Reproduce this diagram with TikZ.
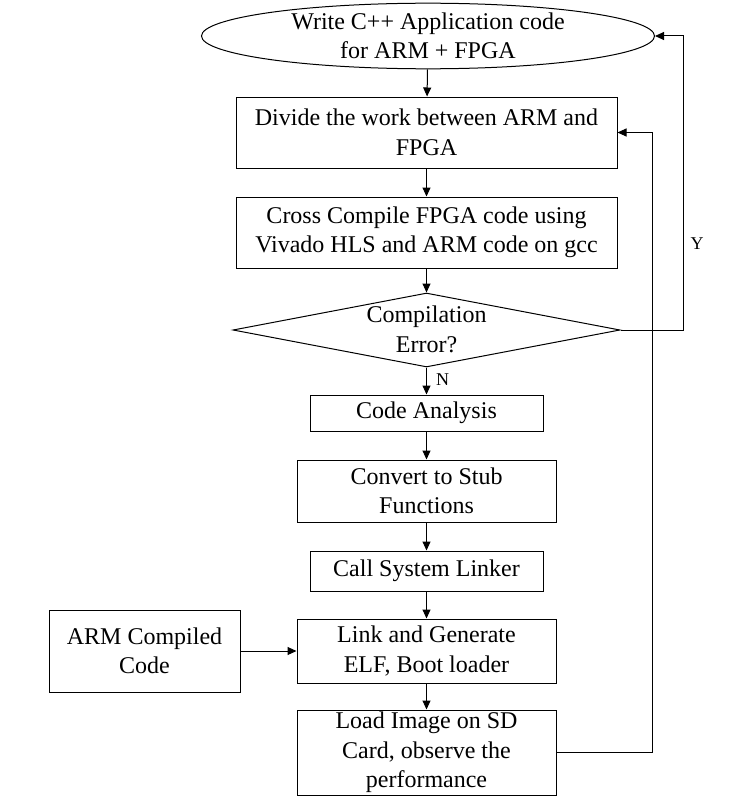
\documentclass[tikz,border=0pt]{standalone}
\usepackage{fontspec}
\setmainfont{Liberation Serif}
\usetikzlibrary{shapes.geometric,arrows.meta}
\begin{document}
\begin{tikzpicture}[x=1pt,y=-1pt,
  every node/.style={font=\fontsize{24}{29.5}\selectfont, align=center, inner sep=0pt},
  proc/.style={draw, line width=1pt, rectangle},
  term/.style={draw, line width=1pt, ellipse},
  decision/.style={draw, line width=1pt, diamond},
  conn/.style={line width=1pt, -{Triangle[length=9pt,width=8pt]}},
  lab/.style={font=\fontsize{18}{20}\selectfont}]
\useasboundingbox (0,0) rectangle (742,800);
\node[term, minimum width=453pt, minimum height=64pt] (ell) at (428,36) {Write C++ Application code\\for ARM + FPGA};
\node[proc, minimum width=381pt, minimum height=71pt] (b1) at (426.5,132.5) {Divide the work between ARM and\\FPGA};
\node[proc, minimum width=381pt, minimum height=71pt] (b2) at (426.5,232.5) {Cross Compile FPGA code using\\Vivado HLS and ARM code on gcc};
\node[decision, minimum width=387pt, minimum height=74pt] (dec) at (426.5,330) {};
\node (dect) at (426.5,329.5) {Compilation\\Error?};
\node[proc, minimum width=233pt, minimum height=36pt] (ca) at (426.5,413) {Code Analysis};
\node[proc, minimum width=259pt, minimum height=62pt] (cv) at (426.5,491) {Convert to Stub\\Functions};
\node[proc, minimum width=233pt, minimum height=40pt] (cl) at (426.5,571) {Call System Linker};
\node[proc, minimum width=259pt, minimum height=64pt] (lk) at (426.5,651) {Link and Generate\\ELF, Boot loader};
\node[proc, minimum width=259pt, minimum height=85pt] (ld) at (426.5,752.5) {Load Image on SD\\Card, observe the\\performance};
\node[proc, minimum width=191pt, minimum height=82pt] (arm) at (144.5,651) {ARM Compiled\\Code};
\coordinate (yc1) at (683,330);
\coordinate (yc2) at (683,36);
\coordinate (lc1) at (652,752.5);
\coordinate (lc2) at (652,132.5);
\draw[conn] (ell) -- (b1);
\draw[conn] (b1) -- (b2);
\draw[conn] (b2) -- (dec);
\draw[conn] (dec) -- node[lab, right=9pt, pos=0.45] (nlab) {N} (ca);
\draw[conn] (ca) -- (cv);
\draw[conn] (cv) -- (cl);
\draw[conn] (cl) -- (lk);
\draw[conn] (lk) -- (ld);
\draw[conn] (arm) -- (lk);
\draw[conn] (dec.east) -- (yc1) -- (yc2) -- (ell.east);
\draw[conn] (ld.east) -- (lc1) -- (lc2) -- (b1.east);
\node[lab] (ylab) at (697,244) {Y};
\end{tikzpicture}
\end{document}
